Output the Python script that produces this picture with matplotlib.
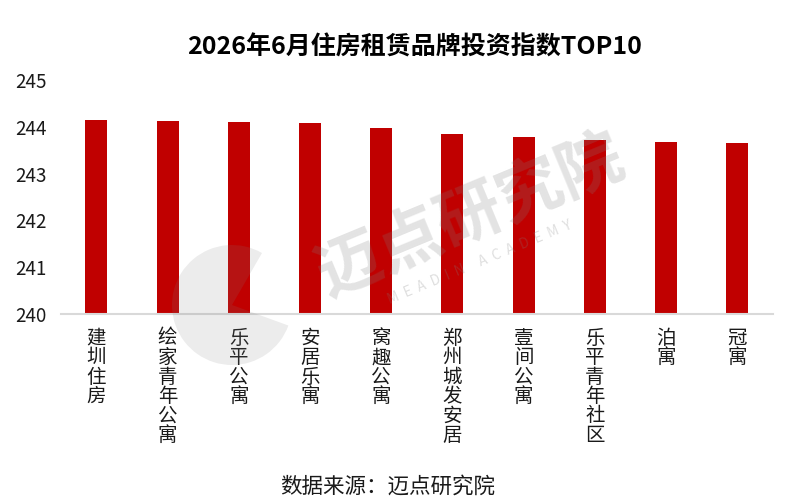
import numpy as np
import matplotlib
matplotlib.use("Agg")
import matplotlib.pyplot as plt
from matplotlib.patches import Wedge

plt.rcParams['font.family'] = ['Noto Sans CJK SC', 'DejaVu Sans']

# --------------------------- data ---------------------------
brands = ['建圳住房', '绘家青年公寓', '乐平公寓', '安居乐寓', '窝趣公寓',
          '郑州城发安居', '壹间公寓', '乐平青年社区', '泊寓', '冠寓']
index_values = [244.14, 244.13, 244.11, 244.08, 243.97,
                243.84, 243.78, 243.72, 243.67, 243.65]
y_ticks = [240, 241, 242, 243, 244, 245]

# --------------------------- plot ---------------------------
fig = plt.figure(figsize=(8, 5.03), dpi=100)
ax = fig.add_axes([0.076, 0.376, 0.89, 0.465])

x = np.arange(len(brands))
ax.bar(x, index_values, width=0.31, color='#c00000', zorder=2)

ax.set_ylim(240, 245)
ax.set_xlim(-0.5, len(brands) - 0.5)
ax.set_yticks(y_ticks)
ax.set_yticklabels([str(v) for v in y_ticks], fontsize=13.5, color='#1a1a1a')
ax.set_xticks(x)
ax.set_xticklabels(['\n'.join(b) for b in brands], fontsize=14, color='#1a1a1a')
for lbl in ax.get_xticklabels():
    lbl.set_linespacing(0.9)
ax.tick_params(axis='both', length=0)
ax.tick_params(axis='x', pad=10)
ax.tick_params(axis='y', pad=10)

for side in ['top', 'right', 'left']:
    ax.spines[side].set_visible(False)
ax.spines['bottom'].set_color('#d9d9d9')
ax.spines['bottom'].set_linewidth(1.5)

# title and source
fig.text(0.518, 0.906, '2026年6月住房租赁品牌投资指数TOP10', ha='center', va='center',
         fontsize=18, fontweight='bold', color='#000000')
fig.text(0.485, 0.032, '数据来源：迈点研究院', ha='center', va='center',
         fontsize=15.5, color='#1a1a1a')

# watermark (faint, overlays the bars)
wm = '#808080'
fig.text(0.588, 0.572, '迈点研究院', ha='center', va='center', rotation=22.5,
         fontsize=47, fontweight='bold', color=wm, alpha=0.22, zorder=5)
fig.text(0.600, 0.478, 'M  E  A  D  I  N     A  C  A  D  E  M  Y', ha='center',
         va='center', rotation=22.5, fontsize=10, color=wm, alpha=0.25, zorder=5)
circ = Wedge((232, 503 - 305), 60, 60, 340, transform=None,
             facecolor=wm, edgecolor='none', alpha=0.15, zorder=5)
fig.patches.append(circ)

fig.savefig('out.png', dpi=100)
